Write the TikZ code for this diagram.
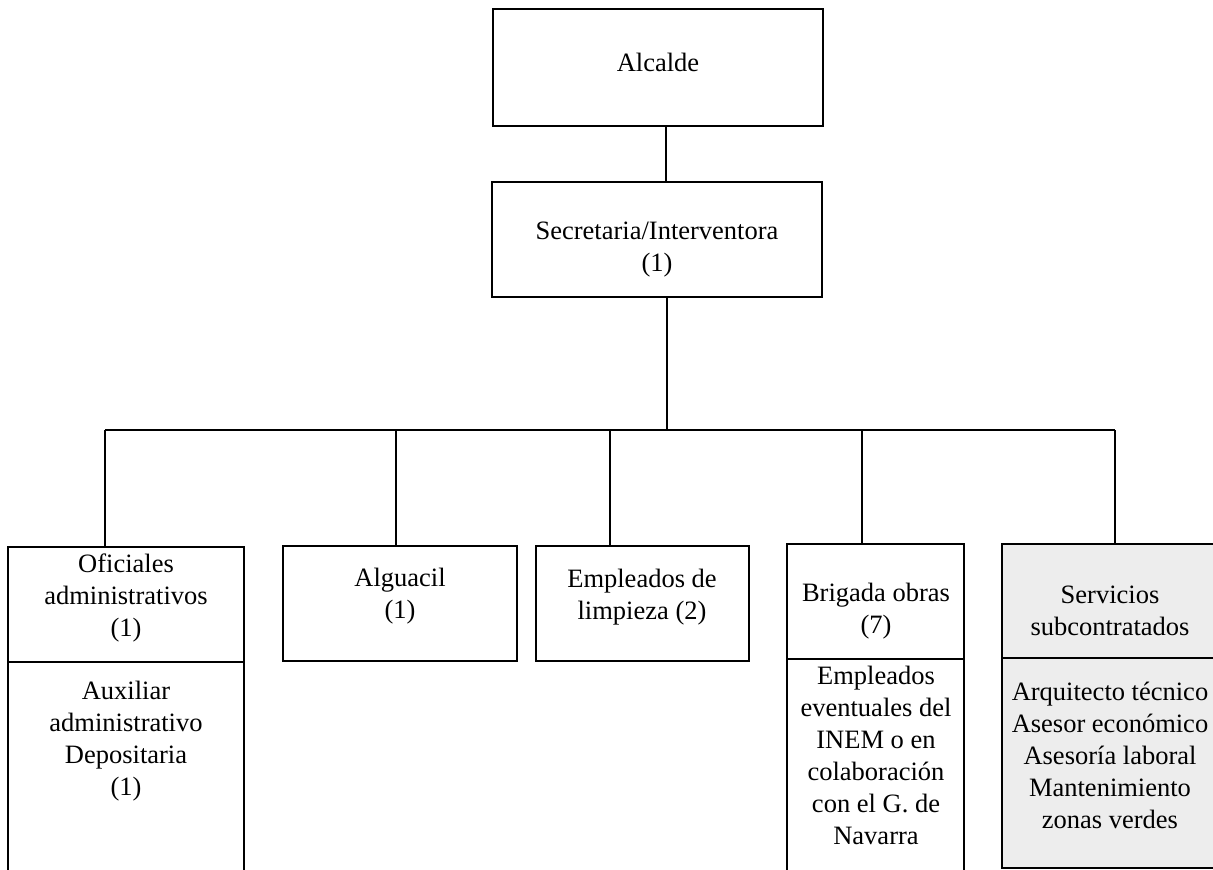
\documentclass[tikz,border=0pt]{standalone}
\usepackage{fontspec}
\setmainfont{Liberation Serif}
\begin{document}
\begin{tikzpicture}[x=1pt,y=-1pt,
 box/.style={draw, line width=1.8pt, inner sep=0pt, outer sep=0pt, anchor=north west},
 shaded/.style={box, fill=black!7},
 lbl/.style={align=center, font=\fontsize{26.5}{32}\selectfont, inner sep=0pt},
 conn/.style={line width=1.8pt}]
\useasboundingbox (0,0) rectangle (1213,870);
\fill[white] (0,0) rectangle (1213,870);

% top boxes
\node[box, minimum width=330pt, minimum height=117pt] (alc) at (493,9) {};
\node[lbl] (alct) at (658,62) {Alcalde};
\node[box, minimum width=330pt, minimum height=115pt] (sec) at (492,182) {};
\node[lbl] (sect) at (657,250) {Secretaria/Interventora\\(1)};

% bottom boxes
\node[box, minimum width=236pt, minimum height=115pt] (ofi) at (8,547) {};
\draw[conn] (ofi.south west) -- ++(0,215);
\draw[conn] (ofi.south east) -- ++(0,215);
\node[lbl] (ofit) at (126,598) {Oficiales\\administrativos\\(1)};
\node[lbl] (auxt) at (126,741) {Auxiliar\\administrativo\\Depositaria\\(1)};

\node[box, minimum width=234pt, minimum height=115pt] (alg) at (283,546) {};
\node[lbl] (algt) at (400,596) {Alguacil\\(1)};

\node[box, minimum width=213pt, minimum height=115pt] (emp) at (536,546) {};
\node[lbl] (empt) at (642,597) {Empleados de\\limpieza (2)};

\node[box, minimum width=177pt, minimum height=115pt] (bri) at (787,544) {};
\draw[conn] (bri.south west) -- ++(0,215);
\draw[conn] (bri.south east) -- ++(0,215);
\node[lbl] (brit) at (876,611) {Brigada obras\\(7)};
\node[lbl] (brilt) at (876,755) {Empleados\\eventuales del\\INEM o en\\colaboración\\con el G. de\\Navarra};

\node[shaded, minimum width=226pt, minimum height=114pt] (ser) at (1002,544) {};
\node[shaded, minimum width=226pt, minimum height=210pt] (serl) at (1002,658) {};
\node[lbl] (sert) at (1110,611) {Servicios\\subcontratados};
\node[lbl] (serlt) at (1110,755) {Arquitecto técnico\\Asesor económico\\Asesoría laboral\\Mantenimiento\\zonas verdes};

% connectors
\coordinate (b1) at (105,430);
\coordinate (b2) at (396,430);
\coordinate (b3) at (610,430);
\coordinate (b4) at (862,430);
\coordinate (b5) at (1115,430);
\coordinate (bs) at (667,430);
\draw[conn] ([xshift=8pt]alc.south) -- ([xshift=8pt]alc.south |- sec.north);
\draw[conn] (bs |- sec.south) -- (bs);
\draw[conn] (b1) -- (b5);
\draw[conn] (b1) -- (b1 |- ofi.north);
\draw[conn] (b2) -- (b2 |- alg.north);
\draw[conn] (b3) -- (b3 |- emp.north);
\draw[conn] (b4) -- (b4 |- bri.north);
\draw[conn] (b5) -- (b5 |- ser.north);
\end{tikzpicture}
\end{document}
